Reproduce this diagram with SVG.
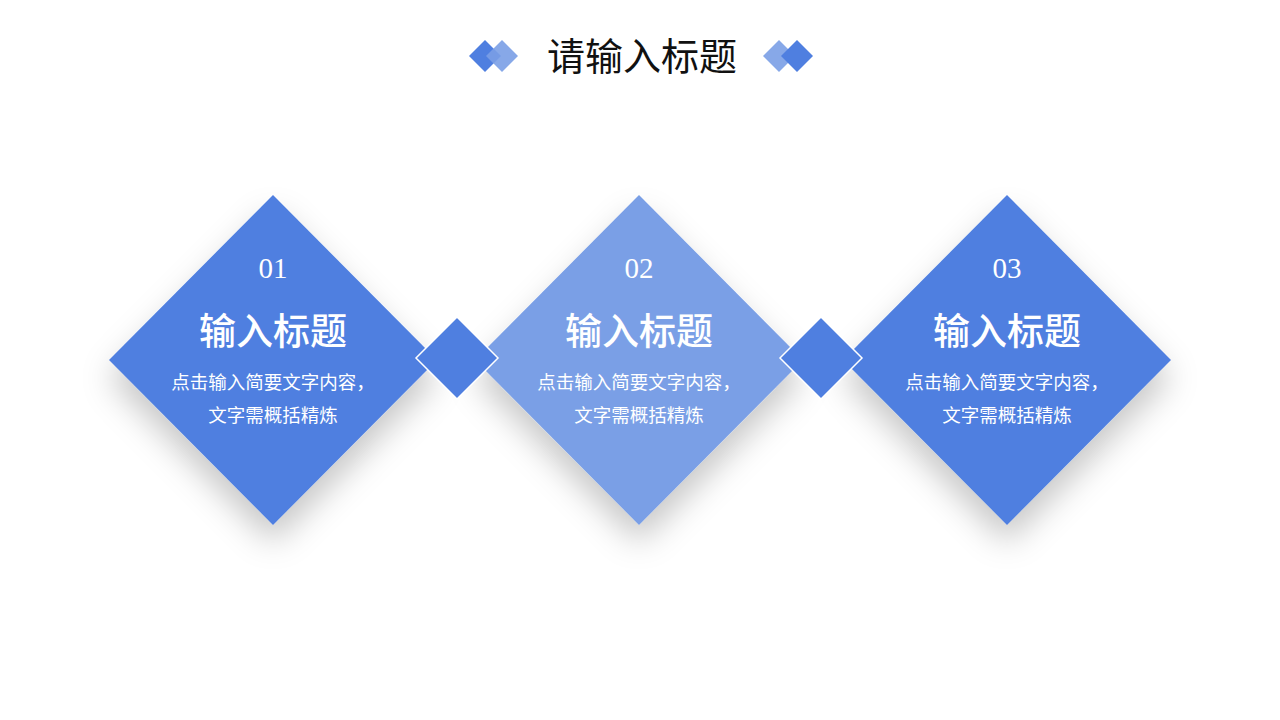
<svg xmlns="http://www.w3.org/2000/svg" width="1280" height="720" viewBox="0 0 1280 720">
<style>
.dark{fill:#4F7FE0}
.light{fill:#7A9FE6}
.num{font-family:"Liberation Serif","Noto Serif CJK SC",serif;font-size:29px;fill:#fff;text-anchor:middle}
.h{font-family:"Noto Sans CJK SC",sans-serif;font-size:37px;font-weight:500;fill:#fff;text-anchor:middle}
.d{font-family:"Noto Sans CJK SC",sans-serif;font-size:18.5px;fill:#fff;text-anchor:middle}
.t{font-family:"Noto Sans CJK SC",sans-serif;font-size:38px;fill:#111;text-anchor:middle}
.small{stroke:#fff;stroke-width:1.5}
</style>
<defs>
<filter id="sh" x="-30%" y="-30%" width="160%" height="170%">
<feGaussianBlur in="SourceAlpha" stdDeviation="16"/>
<feOffset dx="0" dy="18" result="b"/>
<feFlood flood-color="#000" flood-opacity="0.22"/>
<feComposite in2="b" operator="in"/>
<feMerge><feMergeNode/><feMergeNode in="SourceGraphic"/></feMerge>
</filter>
</defs>
<rect width="1280" height="720" fill="#fff"/>
<g id="title">
<polygon class="dark" points="485,40 501,56 485,72 469,56"/>
<polygon class="light" points="502,40 518,56 502,72 486,56" opacity="0.9"/>
<polygon class="light" points="779,40 795,56 779,72 763,56" opacity="0.9"/>
<polygon class="dark" points="797,40 813,56 797,72 781,56"/>
<text class="t" x="642" y="70">请输入标题</text>
</g>
<g id="node1">
<polygon class="dark" filter="url(#sh)" points="273,195 437,360 273,525 109,360"/>
<text class="num" x="273" y="278">01</text>
<text class="h" x="273" y="345">输入标题</text>
<text class="d" x="273" y="389">点击输入简要文字内容，</text>
<text class="d" x="273" y="422">文字需概括精炼</text>
</g>
<g id="node2">
<polygon class="light" filter="url(#sh)" points="639,195 803,360 639,525 475,360"/>
<text class="num" x="639" y="278">02</text>
<text class="h" x="639" y="345">输入标题</text>
<text class="d" x="639" y="389">点击输入简要文字内容，</text>
<text class="d" x="639" y="422">文字需概括精炼</text>
</g>
<g id="node3">
<polygon class="dark" filter="url(#sh)" points="1007,195 1171,360 1007,525 843,360"/>
<text class="num" x="1007" y="278">03</text>
<text class="h" x="1007" y="345">输入标题</text>
<text class="d" x="1007" y="389">点击输入简要文字内容，</text>
<text class="d" x="1007" y="422">文字需概括精炼</text>
</g>
<g id="connectors">
<polygon class="dark small" points="457,317 498,358 457,399 416,358"/>
<polygon class="dark small" points="821,317 862,358 821,399 780,358"/>
</g>
</svg>
